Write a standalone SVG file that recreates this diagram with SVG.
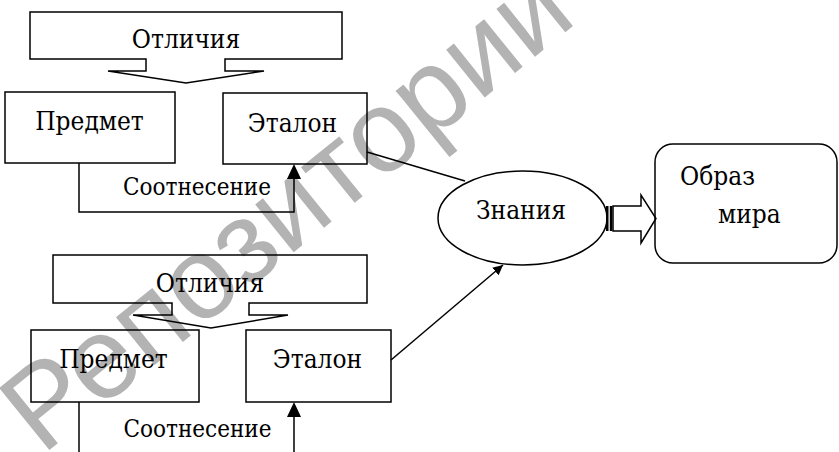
<svg xmlns="http://www.w3.org/2000/svg" width="839" height="452" viewBox="0 0 839 452">
<style>
.s{fill:none;stroke:#000;stroke-width:1.5}
.t{font-family:"DejaVu Serif Condensed","DejaVu Serif","Liberation Serif",serif;font-size:26px;fill:#000}
.c{font-size:24px}
.wm{font-family:"Liberation Sans",Arial,sans-serif;font-size:116px;fill:#b3b3b3}
</style>
<defs>
<marker id="ah" viewBox="0 0 10 10" refX="10" refY="5" markerWidth="10" markerHeight="10" markerUnits="userSpaceOnUse" orient="auto"><path d="M0,0 L10,5 L0,10 Z" fill="#000"/></marker>
</defs>
<rect width="839" height="452" fill="#fff"/>
<text class="wm" x="42" y="456" transform="rotate(-39 42 456)">Репозиторий</text>

<g id="diff1"><path class="s" d="M30,12 H342 V59 H225 V71 H264 L186,83 L108,71 H146 V59 H30 Z"/><text class="t" x="186" y="48" text-anchor="middle">Отличия</text></g>
<g id="subj1"><rect class="s" x="5" y="92" width="170" height="71"/><text class="t" x="89.5" y="130" text-anchor="middle">Предмет</text></g>
<g id="std1"><rect class="s" x="223" y="93" width="144" height="71"/><text class="t" x="292.5" y="132" text-anchor="middle">Эталон</text></g>

<g id="diff2"><path class="s" d="M53,255 H367 V303 H249 V315 H288 L211,328 L133,315 H172 V303 H53 Z"/><text class="t" x="210" y="292" text-anchor="middle">Отличия</text></g>
<g id="subj2"><rect class="s" x="31" y="330" width="168" height="72"/><text class="t" x="113.5" y="368" text-anchor="middle">Предмет</text></g>
<g id="std2"><rect class="s" x="246" y="330" width="145" height="72"/><text class="t" x="317.5" y="368" text-anchor="middle">Эталон</text></g>

<g id="know"><ellipse class="s" cx="522.5" cy="218" rx="84.5" ry="47"/><text class="t" x="521" y="219" text-anchor="middle">Знания</text></g>
<g id="world"><rect class="s" x="655" y="144" width="182" height="119" rx="18"/><text class="t" x="680" y="185">Образ</text><text class="t" x="718" y="223">мира</text></g>

<g id="connectors">
<path class="s" d="M79,163 V212 H294 V179"/>
<path d="M294,164 L301,179 L287,179 Z" fill="#000"/>
<text class="t c" x="197" y="195" text-anchor="middle">Соотнесение</text>
<path class="s" d="M79,402 V452"/>
<path class="s" d="M294,452 V417"/>
<path d="M294,402 L301,417 L287,417 Z" fill="#000"/>
<text class="t c" x="197.5" y="437" text-anchor="middle">Соотнесение</text>
<path class="s" d="M367,152 L465,181"/>
<line x1="391" y1="360" x2="503" y2="265" stroke="#000" stroke-width="1.5" marker-end="url(#ah)"/>
<rect x="606" y="206" width="2.5" height="25" fill="#000"/>
<rect x="609.8" y="206" width="2.5" height="25" fill="#000"/>
<path class="s" d="M613,206 H641 V195 L656,218.5 L641,243 V231 H613 Z"/>
</g>
</svg>
